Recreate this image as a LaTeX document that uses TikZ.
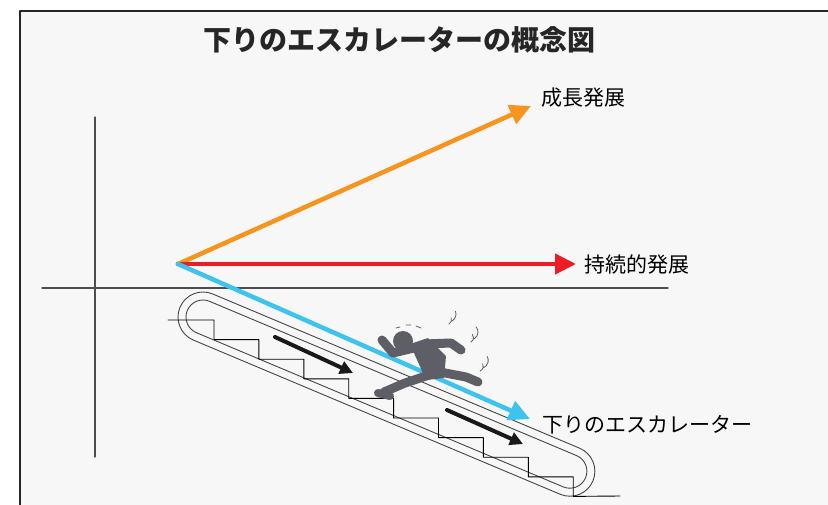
\documentclass[tikz,border=0pt]{standalone}
\usepackage{fontspec}
\newfontfamily\jp{Noto Sans CJK JP}
\usetikzlibrary{arrows.meta}
\definecolor{bg}{HTML}{F7F7F7}
\definecolor{growcol}{HTML}{F7941D}
\definecolor{sustcol}{HTML}{ED1C24}
\definecolor{downcol}{HTML}{3EC3EE}
\definecolor{mancol}{HTML}{5E5E66}
\definecolor{axcol}{HTML}{4D4D4D}
\tikzset{
  vec/.style={line width=4.5pt,-{Triangle[length=21pt,width=20pt]}},
  lbl/.style={anchor=west,inner sep=0pt,font=\jp\fontsize{21}{24}\selectfont},
  belt/.style={draw=axcol!90!black,line width=0.9pt},
  limb/.style={draw=mancol,line width=9pt,line cap=round,line join=round},
  shake/.style={draw=mancol,line width=0.8pt}
}
\begin{document}
\begin{tikzpicture}[x=1pt,y=-1pt,line join=round,line cap=round,>=stealth]
  \useasboundingbox (0,0) rectangle (828,504);
  \fill[white] (0,0) rectangle (828,504);
  \draw[fill=bg,line width=2pt,draw=black!85] (20,11) rectangle (840,520);
  \def\ang{-22.8} % slope of the escalator
  \def\len{398}   % distance between the two end centres
  % title
  \node[font=\jp\bfseries\fontsize{28}{32}\selectfont,text=black!85] (title) at (399,40) {下りのエスカレーターの概念図};
  % axes
  \draw[axcol,line width=1.1pt] (95,117)--(95,457);
  \draw[axcol,line width=1.1pt] (42,288)--(668,288);
  % escalator belt (double stadium)
  \begin{scope}[shift={(203,317)},rotate=\ang]
    \foreach \r in {25,17}{
      \draw[belt] (0,-\r) -- (\len,-\r) arc[start angle=-90,end angle=90,radius=\r]
        -- (0,\r) arc[start angle=90,end angle=270,radius=\r] -- cycle;
    }
  \end{scope}
  % steps
  \draw[black,line width=0.9pt] (168,320) foreach \i in {0,...,8}{
      -- ({214+44.9*\i},{320+19.6*\i}) -- ({214+44.9*\i},{339.6+19.6*\i})} -- (620,496);
  % direction of travel
  \draw[line width=4pt,-{Triangle[length=13pt,width=13pt]},black!90] (275,337)--(353,373);
  \draw[line width=4pt,-{Triangle[length=13pt,width=13pt]},black!90] (447,410)--(523,444);
  % vectors
  \coordinate (o) at (178,264);
  \coordinate (g) at (531,106);
  \coordinate (s) at (576,264);
  \coordinate (d) at (530,419);
  \draw[vec,growcol] (o)--(g);
  \draw[vec,sustcol] (o)--(s);
  \draw[vec,downcol] (o)--(d);
  \node[lbl] (growlbl) at (541,98) {成長発展};
  \node[lbl] (sustlbl) at (584,265) {持続的発展};
  \node[lbl] (downlbl) at (542,425) {下りのエスカレーター};
  % running man
  \fill[mancol] (403,341) circle (10);
  \fill[mancol] (410,344) -- (428,338) -- (446,356) -- (444,378) -- (426,380) -- cycle;
  \draw[limb] (418,347)--(393,353)--(382,340);
  \draw[limb] (424,344)--(451,343)--(461,350);
  \draw[limb] (432,374)--(405,383)--(384,392);
  \draw[limb,line width=8pt] (378,393)--(390,396);
  \draw[limb] (440,372)--(466,377)--(478,382);
  % shaking marks
  \draw[shake] (396,328)--(400,327) (406,325)--(411,325) (416,326)--(421,328);
  \draw[shake] (449,324) arc[start angle=60,end angle=-20,radius=5]
               (452,321) arc[start angle=60,end angle=-20,radius=8];
  \draw[shake] (471,342) arc[start angle=60,end angle=-40,radius=5]
               (474,339) arc[start angle=60,end angle=-40,radius=8];
  \draw[shake] (480,371) arc[start angle=70,end angle=-30,radius=5]
               (483,368) arc[start angle=70,end angle=-30,radius=8];
\end{tikzpicture}
\end{document}
